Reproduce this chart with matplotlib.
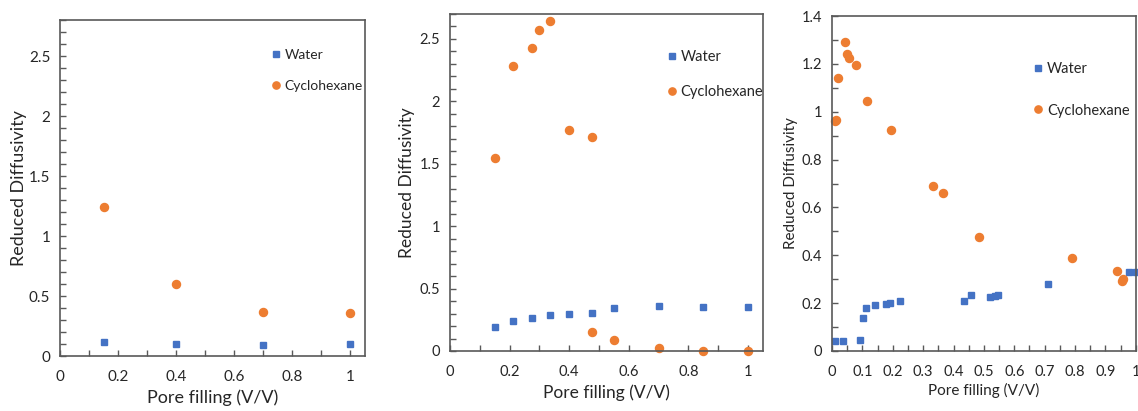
import matplotlib
matplotlib.use("Agg")
import matplotlib.pyplot as plt
from matplotlib.ticker import MultipleLocator

plt.rcParams["font.family"] = ["Lato", "DejaVu Sans"]

BLUE = "#4472C4"
ORANGE = "#ED7D31"
SPINE = "#595959"
TEXT = "#262626"

# panel 1
p1_water_x = [0.15, 0.40, 0.70, 1.00]
p1_water_y = [0.12, 0.10, 0.09, 0.10]
p1_cyc_x = [0.15, 0.40, 0.70, 1.00]
p1_cyc_y = [1.24, 0.60, 0.37, 0.36]

# panel 2
p2_water_x = [0.15, 0.21, 0.275, 0.335, 0.40, 0.475, 0.55, 0.70, 0.85, 1.00]
p2_water_y = [0.19, 0.24, 0.262, 0.286, 0.296, 0.307, 0.347, 0.358, 0.355, 0.355]
p2_cyc_x = [0.15, 0.21, 0.275, 0.30, 0.335, 0.40, 0.475, 0.475, 0.55, 0.70, 0.85, 1.00]
p2_cyc_y = [1.545, 2.285, 2.43, 2.575, 2.645, 1.77, 1.715, 0.15, 0.09, 0.02, 0.0, 0.0]

# panel 3
p3_water_x = [0.010, 0.035, 0.092, 0.101, 0.112, 0.140, 0.179, 0.191, 0.223,
              0.436, 0.459, 0.521, 0.538, 0.547, 0.710, 0.976, 1.000]
p3_water_y = [0.042, 0.042, 0.047, 0.138, 0.180, 0.194, 0.198, 0.202, 0.208,
              0.211, 0.233, 0.225, 0.230, 0.233, 0.278, 0.332, 0.332]
p3_cyc_x = [0.011, 0.013, 0.020, 0.042, 0.051, 0.057, 0.080, 0.116, 0.194,
            0.333, 0.365, 0.483, 0.789, 0.937, 0.953, 0.959]
p3_cyc_y = [0.960, 0.967, 1.139, 1.293, 1.240, 1.223, 1.196, 1.044, 0.923,
            0.688, 0.660, 0.476, 0.389, 0.336, 0.293, 0.302]

panels = [
    dict(rect=[0.0527, 0.1338, 0.268, 0.8175], data=(p1_water_x, p1_water_y, p1_cyc_x, p1_cyc_y),
         xlim=1.05, ylim=2.8, xmaj=0.2, xmin=0.1, ymaj=0.5, ymin=0.1,
         tick_fs=11, label_fs=13, leg_fs=10, leg_xy=(0.69, 0.85), leg_sp=1.35,
         ylab_x=-0.108, xlab_y=-0.1),
    dict(rect=[0.3954, 0.146, 0.275, 0.82], data=(p2_water_x, p2_water_y, p2_cyc_x, p2_cyc_y),
         xlim=1.05, ylim=2.7, xmaj=0.2, xmin=0.1, ymaj=0.5, ymin=0.1,
         tick_fs=10.5, label_fs=12.5, leg_fs=10.5, leg_xy=(0.69, 0.82), leg_sp=1.45,
         ylab_x=-0.112, xlab_y=-0.098),
    dict(rect=[0.7311, 0.146, 0.267, 0.815], data=(p3_water_x, p3_water_y, p3_cyc_x, p3_cyc_y),
         xlim=1.0, ylim=1.4, xmaj=0.1, xmin=0.05, ymaj=0.2, ymin=0.1,
         tick_fs=10.5, label_fs=11, leg_fs=10.5, leg_xy=(0.66, 0.78), leg_sp=1.9,
         ylab_x=-0.112, xlab_y=-0.095),
]

fig = plt.figure(figsize=(11.38, 4.11), dpi=100)

for p in panels:
    ax = fig.add_axes(p["rect"])
    wx, wy, cx, cy = p["data"]
    ax.plot(wx, wy, "s", color=BLUE, markersize=5, label="Water", clip_on=False)
    ax.plot(cx, cy, "o", color=ORANGE, markersize=5.8, label="Cyclohexane", clip_on=False)

    ax.set_xlim(0, p["xlim"])
    ax.set_ylim(0, p["ylim"])
    ax.xaxis.set_major_locator(MultipleLocator(p["xmaj"]))
    ax.xaxis.set_minor_locator(MultipleLocator(p["xmin"]))
    ax.yaxis.set_major_locator(MultipleLocator(p["ymaj"]))
    ax.yaxis.set_minor_locator(MultipleLocator(p["ymin"]))
    ax.xaxis.set_major_formatter(lambda v, pos: f"{v:g}")
    ax.yaxis.set_major_formatter(lambda v, pos: f"{v:g}")
    ax.tick_params(which="both", direction="in", length=4, width=1, color=SPINE,
                   labelsize=p["tick_fs"], labelcolor=TEXT)
    ax.tick_params(axis="x", which="major", pad=10)
    ax.tick_params(axis="y", which="major", pad=7)
    for s in ax.spines.values():
        s.set_color(SPINE)
        s.set_linewidth(1.2)

    ax.set_xlabel("Pore filling (V/V)", fontsize=p["label_fs"], color=TEXT)
    ax.set_ylabel("Reduced Diffusivity", fontsize=p["label_fs"], color=TEXT)
    ax.yaxis.set_label_coords(p["ylab_x"], 0.5)
    ax.xaxis.set_label_coords(0.5, p["xlab_y"])

    ax.legend(loc="center left", bbox_to_anchor=p["leg_xy"], frameon=False,
              fontsize=p["leg_fs"], handlelength=0.8, handletextpad=0.2,
              borderpad=0, borderaxespad=0, labelspacing=p["leg_sp"],
              labelcolor=TEXT, markerscale=0.9)

fig.savefig("out.png", dpi=100, facecolor="white")
